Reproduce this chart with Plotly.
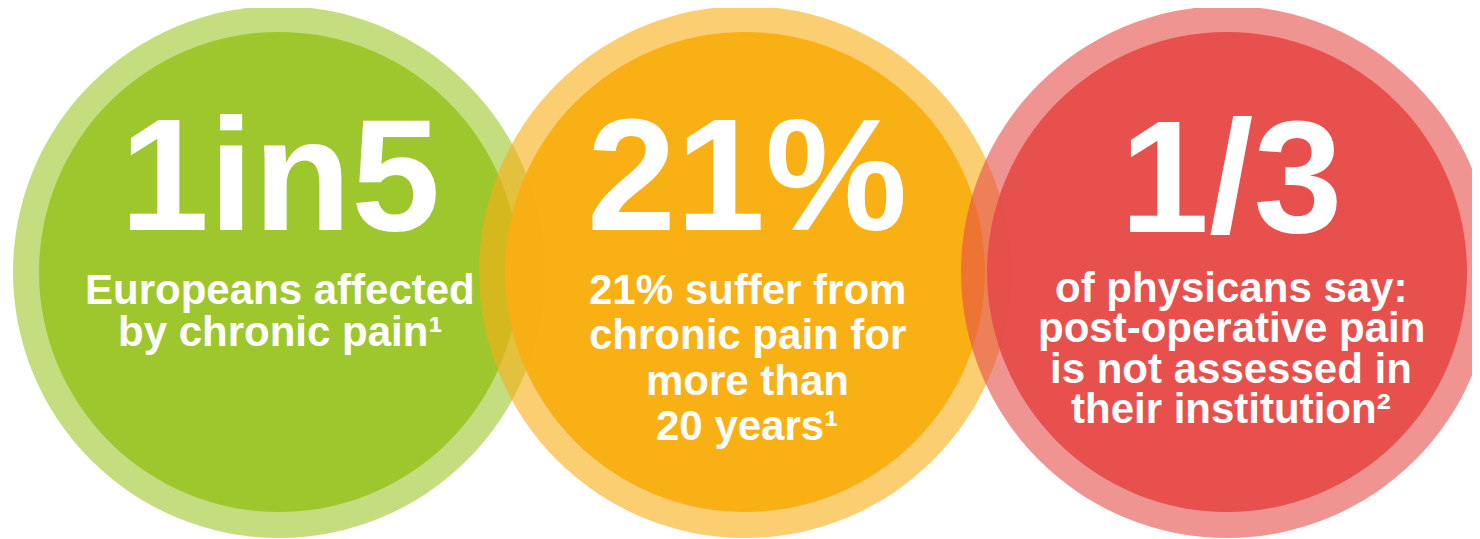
import plotly.graph_objects as go

# ---- data ----
headlines = ["1in5", "21%", "1/3"]
descriptions = [
    ["Europeans affected", "by chronic pain\u00b9"],
    ["21% suffer from", "chronic pain for", "more than", "20 years\u00b9"],
    ["of physicans say:", "post-operative pain", "is not assessed in", "their institution\u00b2"],
]
main_colors = [(156, 198, 42), (249, 174, 18), (230, 77, 73)]

# ---- layout / style ----
W, H = 1480, 539
OFF = 8  # compensate default page margin
circle_cx = [279, 745, 1227]
circle_cy = 272
r_outer = 266
r_inner = 240
text_cx = [280, 747, 1231]
head_size = 160
head_baseline = [230, 230, 232]
desc_size = 42
desc_first_baseline = [304, 304, 302]
desc_spacing = [42, 45.5, 40.5]
FONT = "Liberation Sans, Arial, sans-serif"

fig = go.Figure()
fig.add_trace(go.Scatter(x=[OFF, W + OFF], y=[OFF, H + OFF], mode="markers",
                         marker=dict(opacity=0), hoverinfo="skip", showlegend=False))

shapes = []
annotations = []
for i, (r, g, b) in enumerate(main_colors):
    cx = circle_cx[i]
    shapes.append(dict(type="circle", xref="x", yref="y",
                       x0=cx - r_outer, x1=cx + r_outer,
                       y0=circle_cy - r_outer, y1=circle_cy + r_outer,
                       fillcolor=f"rgba({r},{g},{b},0.6)", line=dict(width=0),
                       layer="above"))
    shapes.append(dict(type="circle", xref="x", yref="y",
                       x0=cx - r_inner, x1=cx + r_inner,
                       y0=circle_cy - r_inner, y1=circle_cy + r_inner,
                       fillcolor=f"rgba({r},{g},{b},0.97)", line=dict(width=0),
                       layer="above"))
    annotations.append(dict(x=text_cx[i], y=head_baseline[i] - 0.35 * head_size,
                            xref="x", yref="y", text=headlines[i], showarrow=False,
                            xanchor="center", yanchor="middle",
                            font=dict(family=FONT, size=head_size, color="white", weight="bold")))
    for j, line in enumerate(descriptions[i]):
        base = desc_first_baseline[i] + j * desc_spacing[i]
        annotations.append(dict(x=text_cx[i], y=base - 0.35 * desc_size,
                                xref="x", yref="y", text=line, showarrow=False,
                                xanchor="center", yanchor="middle",
                                font=dict(family=FONT, size=desc_size, color="white", weight="bold")))

fig.update_layout(
    width=W, height=H, autosize=False,
    margin=dict(l=0, r=0, t=0, b=0, pad=0),
    paper_bgcolor="white", plot_bgcolor="white",
    shapes=shapes, annotations=annotations,
    showlegend=False,
    xaxis=dict(range=[OFF, W + OFF], visible=False, fixedrange=True),
    yaxis=dict(range=[H + OFF, OFF], visible=False, fixedrange=True),
)

fig.write_html("out.html", config={"displayModeBar": False})
